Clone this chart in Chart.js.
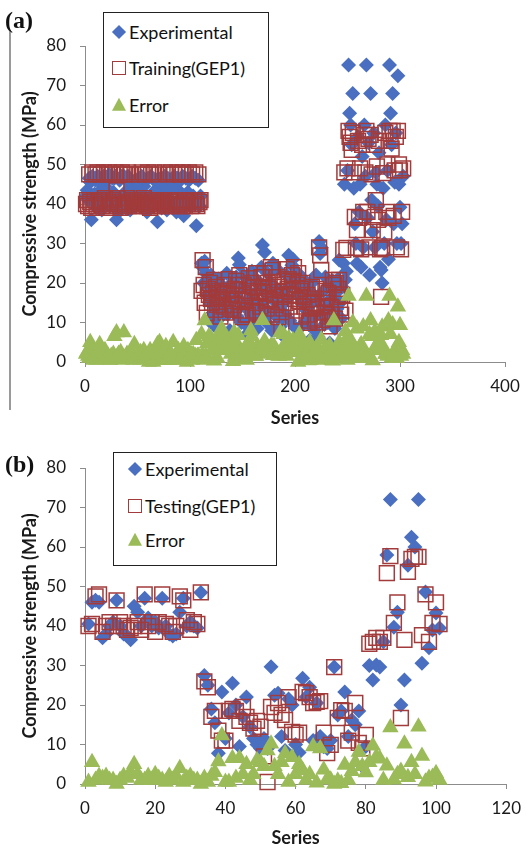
<!DOCTYPE html>
<html>
<head>
<meta charset="utf-8">
<script src="https://cdn.jsdelivr.net/npm/chart.js@4.4.0/dist/chart.umd.min.js"></script>
<style>
    body { margin: 0; background: #fff; font-family: Lato, sans-serif; }
    #pagina { position: relative; width: 530px; height: 849px; overflow: hidden; }
    .painel { position: absolute; left: 0; }
    .letra { position: absolute; left: 5px; font: bold 24px "Liberation Serif", serif; line-height: 24px; color: #111; }
    .linha { position: absolute; left: 9px; top: 30px; width: 2px; height: 380px; background: #9a9a9a; }
    .legenda { position: absolute; box-sizing: border-box; border: 1.5px solid #222; background: #fff; }
    .texto { position: absolute; font-size: 18px; line-height: 20px; color: #111; white-space: nowrap; transform: translateY(-50%); }
    .marca { position: absolute; }
</style>
</head>
<body>
<div id="pagina">
    <div class="linha"></div>
    <div class="painel" style="top:0px"><canvas id="graficoA" width="530" height="430"></canvas></div>
    <div class="painel" style="top:430px"><canvas id="graficoB" width="530" height="419"></canvas></div>
    <div class="letra" style="top:8px">(a)</div>
    <div class="letra" style="top:452px">(b)</div>
    <div class="legenda" id="legendaA" style="left:103px; top:12px; width:166px; height:116px"></div>
    <div class="legenda" id="legendaB" style="left:113px; top:452px; width:164px; height:114px"></div>
</div>
<script>
const azul = '#4a6fc0';
const vermelho = '#a23b3b';
const verde = '#9bbb59';

const nomesA = ['Experimental', 'Training(GEP1)', 'Error'];
const nomesB = ['Experimental', 'Testing(GEP1)', 'Error'];

const ticksXA = [0, 100, 200, 300, 400];
const ticksXB = [0, 20, 40, 60, 80, 100, 120];
const ticksY = [0, 10, 20, 30, 40, 50, 60, 70, 80];

// (a) treino - serie 1 a 303
const expA = [
    42.0, 43.5, 41.0, 46.5, 45.5, 36.0, 47.0, 40.5, 42.5, 46.0,
    39.0, 47.0, 43.0, 45.5, 46.5, 38.5, 41.5, 47.0, 44.5, 40.0,
    46.0, 42.0, 47.5, 39.5, 41.0, 46.5, 43.0, 46.5, 47.0, 36.0,
    40.0, 38.0, 46.0, 41.5, 47.0, 40.0, 47.0, 46.5, 39.0, 43.5,
    47.0, 41.0, 38.5, 46.0, 42.0, 40.5, 44.0, 39.5, 41.0, 42.5,
    46.5, 40.0, 43.0, 47.0, 39.0, 44.5, 46.0, 41.5, 38.0, 46.5,
    40.5, 42.0, 47.0, 39.5, 41.0, 46.0, 43.5, 40.0, 35.5, 46.5,
    45.5, 43.0, 39.0, 42.0, 40.5, 47.0, 44.0, 38.5, 46.5, 41.0,
    43.0, 46.0, 39.5, 44.5, 47.0, 40.0, 38.0, 46.5, 43.5, 41.0,
    46.0, 39.0, 47.0, 37.0, 42.0, 46.5, 40.5, 43.0, 46.0, 39.5,
    41.5, 47.0, 42.0, 40.0, 46.5, 34.5, 41.0, 46.0, 39.5, 42.0,
    25.0, 24.0, 20.0, 25.5, 22.5, 17.0, 19.5, 10.5, 15.0, 22.0,
    18.0, 12.5, 20.5, 9.0, 16.0, 13.5, 21.0, 11.0, 17.5, 7.5,
    14.0, 19.0, 13.0, 16.5, 22.5, 12.0, 18.0, 8.0, 15.0, 20.0,
    13.0, 7.0, 17.0, 21.5, 11.5, 26.3, 24.6, 15.5, 10.0, 19.0,
    22.0, 14.0, 9.5, 18.5, 7.3, 16.0, 20.5, 12.0, 23.0, 10.5,
    17.0, 13.5, 21.0, 8.5, 15.0, 19.5, 11.0, 24.0, 29.6, 14.0,
    27.8, 18.0, 10.0, 22.5, 16.5, 12.5, 20.0, 8.0, 25.0, 15.5,
    19.0, 11.5, 23.5, 13.0, 17.5, 9.0, 11.0, 14.5, 6.5, 18.0,
    12.0, 22.0, 16.0, 27.0, 10.5, 19.5, 24.5, 26.0, 21.0, 20.5,
    8.5, 17.0, 22.5, 8.5, 18.5, 5.6, 15.0, 21.0, 10.0, 16.5,
    13.0, 19.0, 9.5, 5.5, 14.5, 20.0, 11.0, 17.0, 8.0, 22.0,
    15.5, 6.3, 30.5, 27.5, 29.0, 12.0, 18.0, 9.5, 21.5, 14.0,
    10.0, 19.5, 4.8, 16.0, 12.5, 20.5, 9.0, 8.5, 17.5, 13.5,
    21.0, 25.8, 15.0, 11.0, 19.0, 25.0, 45.0, 20.8, 23.0, 48.5,
    75.2, 63.0, 60.0, 55.0, 68.0, 44.0, 35.0, 30.0, 25.0, 57.0,
    38.0, 45.0, 24.0, 52.0, 29.0, 60.0, 47.0, 75.2, 36.5, 55.5,
    22.0, 68.0, 41.0, 33.0, 58.0, 29.0, 48.0, 45.0, 39.5, 53.0,
    24.0, 23.3, 20.0, 44.0, 30.0, 60.0, 36.0, 48.5, 26.0, 75.2,
    63.0, 55.0, 68.0, 35.0, 45.5, 58.0, 30.0, 72.5, 45.0, 39.2,
    30.0, 35.0, 47.0
];

const treinoA = [
    40.0, 41.0, 39.5, 47.5, 40.5, 39.0, 48.0, 40.0, 41.0, 47.5,
    39.5, 48.0, 40.5, 41.0, 47.5, 39.5, 40.0, 48.0, 41.5, 39.0,
    47.5, 40.5, 48.0, 40.0, 39.5, 47.5, 41.0, 40.0, 48.0, 43.5,
    41.5, 40.0, 47.5, 39.0, 48.0, 40.5, 39.5, 47.5, 40.0, 41.5,
    48.0, 39.5, 40.5, 47.5, 40.0, 41.0, 39.5, 40.5, 40.0, 41.0,
    47.5, 39.5, 40.5, 48.0, 40.0, 41.5, 47.5, 40.0, 39.5, 48.0,
    40.5, 39.0, 47.5, 40.0, 41.0, 48.0, 40.5, 39.5, 40.0, 47.5,
    40.5, 40.0, 39.5, 40.5, 41.0, 48.0, 40.0, 39.5, 47.5, 40.5,
    41.0, 48.0, 40.0, 39.5, 47.5, 41.0, 40.0, 48.0, 40.5, 39.5,
    47.5, 40.0, 48.0, 41.0, 39.5, 47.5, 40.5, 40.0, 48.0, 41.0,
    39.5, 47.5, 40.0, 41.0, 48.0, 40.0, 39.5, 47.5, 40.5, 41.0,
    18.0, 25.8, 19.5, 15.0, 24.0, 12.4, 18.5, 17.0, 20.0, 16.0,
    15.0, 17.5, 20.8, 13.2, 19.0, 14.5, 16.5, 18.0, 11.5, 16.0,
    17.5, 14.0, 19.5, 12.5, 18.0, 16.0, 21.0, 13.5, 17.0, 15.5,
    13.2, 14.5, 18.5, 20.5, 16.0, 19.5, 22.0, 13.0, 11.4, 17.0,
    19.5, 15.5, 12.0, 18.0, 12.0, 21.2, 17.5, 20.0, 16.5, 13.0,
    19.0, 15.0, 22.5, 12.5, 18.0, 16.5, 14.0, 21.5, 19.0, 17.5,
    22.5, 15.5, 13.5, 20.0, 18.5, 16.0, 24.0, 12.0, 23.3, 19.5,
    17.0, 14.5, 21.5, 11.4, 19.0, 16.5, 8.9, 18.0, 13.5, 20.5,
    15.0, 23.5, 18.5, 21.0, 14.0, 17.0, 22.0, 20.5, 24.0, 16.0,
    13.0, 19.5, 22.5, 15.5, 18.0, 11.5, 20.0, 16.5, 14.0, 18.5,
    12.0, 17.0, 9.9, 10.5, 15.0, 19.0, 13.5, 16.0, 11.0, 18.5,
    14.0, 10.0, 29.0, 27.0, 23.3, 10.6, 16.0, 12.5, 18.0, 15.0,
    11.5, 17.5, 9.0, 14.0, 12.0, 20.8, 19.5, 11.0, 20.0, 16.5,
    18.5, 20.8, 13.7, 12.0, 17.0, 28.4, 48.0, 13.0, 28.9, 49.0,
    58.5, 57.0, 55.5, 53.7, 58.0, 48.0, 36.7, 28.9, 33.4, 56.0,
    36.5, 49.0, 28.5, 55.0, 38.0, 57.5, 48.0, 58.5, 38.0, 56.5,
    29.0, 57.5, 47.5, 33.4, 55.0, 36.7, 41.0, 49.5, 36.0, 56.0,
    28.5, 16.5, 28.9, 47.8, 33.0, 58.0, 38.0, 50.0, 36.5, 58.5,
    56.0, 54.0, 58.5, 37.0, 48.5, 57.0, 29.0, 58.5, 50.0, 48.5,
    28.5, 38.0, 49.0
];

const erroA = [
    2.0, 2.5, 1.5, 1.0, 5.0, 3.0, 1.0, 0.5, 1.5, 1.5,
    0.5, 1.0, 2.5, 4.5, 1.0, 1.0, 1.5, 1.0, 3.0, 1.0,
    1.5, 1.5, 0.5, 0.5, 1.5, 1.0, 2.0, 6.5, 1.0, 7.5,
    1.5, 2.0, 1.5, 2.5, 1.0, 0.5, 7.5, 1.0, 1.0, 2.0,
    1.0, 1.5, 2.0, 1.5, 2.0, 0.5, 4.5, 1.0, 1.0, 1.5,
    1.0, 0.5, 2.5, 1.0, 1.0, 3.0, 1.5, 1.5, 1.5, 1.5,
    0.0, 3.0, 0.5, 0.5, 0.0, 2.0, 3.0, 0.5, 4.5, 1.0,
    5.0, 3.0, 0.5, 1.5, 0.5, 1.0, 4.0, 1.0, 1.0, 0.5,
    2.0, 2.0, 0.5, 5.0, 0.5, 1.0, 2.0, 1.5, 3.0, 1.5,
    1.5, 1.0, 1.0, 4.0, 2.5, 1.0, 0.0, 3.0, 2.0, 1.5,
    2.0, 0.5, 2.0, 1.0, 1.5, 5.5, 1.5, 1.5, 1.0, 1.0,
    7.0, 1.8, 0.5, 10.5, 1.5, 4.6, 1.0, 6.5, 5.0, 6.0,
    3.0, 5.0, 0.3, 4.2, 3.0, 1.0, 4.5, 7.0, 6.0, 8.5,
    3.5, 5.0, 6.5, 4.0, 4.5, 4.0, 3.0, 5.5, 2.0, 4.5,
    0.2, 7.5, 1.5, 1.0, 4.5, 6.8, 2.6, 2.5, 1.4, 2.0,
    2.5, 1.5, 2.5, 0.5, 4.7, 5.2, 3.0, 8.0, 6.5, 2.5,
    2.0, 1.5, 1.5, 4.0, 3.0, 3.0, 3.0, 2.5, 10.6, 3.5,
    5.3, 2.5, 3.5, 2.5, 2.0, 3.5, 4.0, 4.0, 1.7, 4.0,
    2.0, 3.0, 2.0, 1.6, 1.5, 7.5, 2.1, 3.5, 7.0, 2.5,
    3.0, 1.5, 2.5, 6.0, 3.5, 2.5, 2.5, 5.5, 3.0, 4.5,
    4.5, 2.5, 0.0, 7.0, 0.5, 5.9, 5.0, 4.5, 4.0, 2.0,
    1.0, 2.0, 0.4, 5.0, 0.5, 1.0, 2.5, 1.0, 3.0, 3.5,
    1.5, 3.7, 1.5, 0.5, 5.7, 1.4, 2.0, 3.0, 3.5, 1.0,
    1.5, 2.0, 4.2, 2.0, 0.5, 0.3, 10.5, 2.5, 2.5, 3.0,
    2.5, 5.0, 1.3, 1.0, 2.0, 3.4, 3.0, 7.8, 5.9, 0.5,
    16.7, 6.0, 4.5, 1.3, 10.0, 4.0, 1.7, 1.1, 8.4, 1.0,
    1.5, 4.0, 4.5, 3.0, 9.0, 2.5, 1.0, 16.7, 1.5, 1.0,
    7.0, 10.5, 6.5, 0.4, 3.0, 7.7, 7.0, 4.5, 3.5, 3.0,
    4.5, 6.8, 8.9, 3.8, 3.0, 2.0, 2.0, 1.5, 10.5, 16.7,
    7.0, 1.0, 9.5, 2.0, 3.0, 1.0, 1.0, 14.0, 5.0, 9.3,
    1.5, 3.0, 2.0
];

// (b) teste - serie 1 a 101
const expB = [
    40.5, 46.0, 46.5, 46.0, 37.0, 38.0, 40.0, 41.0, 46.5, 40.0,
    38.0, 37.5, 36.5, 45.0, 43.5, 40.0, 47.0, 42.0, 40.0, 41.0,
    39.5, 47.0, 40.0, 38.0, 37.5, 38.0, 43.5, 47.0, 40.0, 41.0,
    40.0, 39.5, 48.5, 27.5, 25.0, 19.0, 15.5, 7.8, 23.3, 11.5,
    18.0, 25.5, 20.0, 9.5, 17.0, 22.0, 14.5, 11.5, 10.0, 9.0,
    11.5, 9.0, 29.7, 22.5, 23.0, 12.0, 8.5, 21.5, 20.0, 10.0,
    8.0, 26.8, 22.0, 24.5, 11.0, 20.5, 12.0, 9.4, 9.0, 11.0,
    29.6, 17.5, 18.5, 23.3, 12.0, 16.2, 15.0, 18.5, 4.5, 9.5,
    30.0, 26.3, 30.1, 29.6, 36.0, 58.0, 72.0, 39.7, 43.5, 20.0,
    26.3, 55.4, 62.5, 60.0, 72.0, 30.6, 48.6, 34.5, 39.0, 43.3,
    39.5
];

const testeB = [
    40.0, 40.5, 47.5, 48.0, 38.5, 40.0, 41.0, 40.0, 46.5, 41.0,
    40.0, 39.0, 39.5, 40.0, 41.0, 39.0, 48.0, 40.0, 41.0, 38.5,
    41.0, 48.0, 40.5, 40.0, 38.5, 40.0, 47.5, 46.5, 41.5, 39.0,
    41.0, 40.5, 48.5, 26.0, 24.5, 17.0, 18.5, 13.5, 11.0, 11.0,
    18.5, 19.0, 18.5, 16.0, 19.5, 17.0, 15.5, 14.0, 16.0, 14.5,
    7.0, 0.5, 19.5, 18.0, 20.5, 17.5, 16.2, 22.0, 13.2, 12.5,
    13.0, 23.3, 23.0, 22.0, 20.5, 20.8, 21.0, 13.0, 7.8, 9.9,
    29.6, 16.7, 18.7, 18.5, 11.0, 13.0, 20.5, 10.4, 9.0, 12.4,
    35.5, 36.0, 37.0, 36.0, 37.0, 53.4, 57.7, 40.8, 46.0, 16.7,
    36.5, 53.7, 57.0, 57.5, 57.5, 37.7, 48.0, 36.0, 40.8, 46.0,
    40.5
];

const erroB = [
    0.5, 5.5, 1.0, 2.0, 1.5, 2.0, 1.0, 1.0, 0.0, 1.0,
    2.0, 1.5, 3.0, 5.0, 2.5, 1.0, 1.0, 2.0, 1.0, 2.5,
    1.5, 1.0, 0.5, 2.0, 1.0, 2.0, 4.0, 0.5, 1.5, 2.0,
    1.0, 1.0, 0.0, 1.5, 0.5, 2.0, 3.0, 5.7, 12.3, 0.5,
    0.5, 6.5, 1.5, 6.5, 2.5, 5.0, 1.0, 2.5, 6.0, 5.5,
    4.5, 8.5, 10.2, 4.5, 2.5, 5.5, 7.7, 0.5, 6.8, 2.5,
    5.0, 3.5, 1.0, 2.5, 9.5, 0.3, 9.0, 3.6, 1.2, 1.1,
    0.0, 0.8, 0.2, 4.8, 1.0, 3.2, 5.5, 8.1, 4.5, 2.9,
    5.5, 9.7, 6.9, 6.4, 1.0, 4.6, 14.3, 1.1, 2.5, 3.3,
    10.2, 1.7, 5.5, 2.5, 14.5, 7.1, 0.6, 1.5, 1.8, 2.7,
    1.0
];

Chart.defaults.font.family = 'Lato, sans-serif';
Chart.defaults.color = '#1a1a1a';

function pontos(valores) {
    return valores.map(function (v, k) {
        return { x: k + 1, y: v };
    });
}

function montarGrafico(id, nomes, series, ticksX, maxX, caixa) {
    const ctx = document.getElementById(id);
    return new Chart(ctx, {
        type: 'scatter',
        data: {
            datasets: [
                {
                    label: nomes[0],
                    data: pontos(series[0]),
                    pointStyle: 'rectRot',
                    pointRadius: 7.5,
                    backgroundColor: azul,
                    borderWidth: 0,
                    order: 2,
                    clip: false
                },
                {
                    label: nomes[1],
                    data: pontos(series[1]),
                    pointStyle: 'rect',
                    pointRadius: 10.5,
                    backgroundColor: 'rgba(0,0,0,0)',
                    borderColor: vermelho,
                    borderWidth: 1.5,
                    order: 1,
                    clip: false
                },
                {
                    label: nomes[2],
                    data: pontos(series[2]),
                    pointStyle: 'triangle',
                    pointRadius: 9.5,
                    backgroundColor: verde,
                    borderWidth: 0,
                    order: 0,
                    clip: false
                }
            ]
        },
        options: {
            responsive: false,
            animation: false,
            events: [],
            layout: {
                padding: { top: caixa.topo, right: caixa.direita, bottom: 0, left: 0 }
            },
            plugins: {
                legend: { display: false },
                tooltip: { enabled: false }
            },
            scales: {
                x: {
                    type: 'linear',
                    min: 0,
                    max: maxX,
                    afterBuildTicks: function (s) {
                        s.ticks = ticksX.map(function (v) { return { value: v }; });
                    },
                    afterFit: function (s) { s.height = caixa.alturaX; },
                    ticks: { font: { size: 17 }, padding: 9, maxRotation: 0 },
                    grid: { drawOnChartArea: false, drawTicks: true, tickLength: 5, color: '#8c8c8c' },
                    border: { color: '#8c8c8c', width: 1 },
                    title: {
                        display: true,
                        text: 'Series',
                        font: { size: 18, weight: 'bold' },
                        padding: { top: 0, bottom: caixa.tituloX }
                    }
                },
                y: {
                    min: 0,
                    max: 80,
                    afterBuildTicks: function (s) {
                        s.ticks = ticksY.map(function (v) { return { value: v }; });
                    },
                    afterFit: function (s) { s.width = 85; },
                    ticks: { font: { size: 17 }, padding: 14 },
                    grid: { drawOnChartArea: false, drawTicks: true, tickLength: 5, color: '#8c8c8c' },
                    border: { color: '#8c8c8c', width: 1 },
                    title: {
                        display: true,
                        text: 'Compressive strength (MPa)',
                        font: { size: 18, weight: 'bold' },
                        padding: { top: 19, bottom: 0 }
                    }
                }
            }
        }
    });
}

function montarLegenda(id, nomes, xMarca, xTexto, linhas) {
    const caixa = document.getElementById(id);
    const estilos = [
        'width:10px;height:10px;background:' + azul + ';transform:translate(-50%,-50%) rotate(45deg);',
        'box-sizing:border-box;width:14px;height:14px;border:1.5px solid ' + vermelho + ';transform:translate(-50%,-50%);',
        'width:0;height:0;border-left:7.5px solid transparent;border-right:7.5px solid transparent;border-bottom:13px solid ' + verde + ';transform:translate(-50%,-55%);'
    ];
    nomes.forEach(function (nome, k) {
        caixa.innerHTML += `<div class="marca" style="left:${xMarca}px;top:${linhas[k]}px;${estilos[k]}"></div>`;
        caixa.innerHTML += `<div class="texto" style="left:${xTexto}px;top:${linhas[k]}px">${nome}</div>`;
    });
}

montarGrafico('graficoA', nomesA, [expA, treinoA, erroA], ticksXA, 400,
    { topo: 46, direita: 25, alturaX: 68, tituloX: 1.2 });
montarGrafico('graficoB', nomesB, [expB, testeB, erroB], ticksXB, 120,
    { topo: 38, direita: 18, alturaX: 65, tituloX: 0.2 });

montarLegenda('legendaA', nomesA, 15, 25, [19, 55, 92]);
montarLegenda('legendaB', nomesB, 21, 31, [16, 53, 87]);
</script>
</body>
</html>
